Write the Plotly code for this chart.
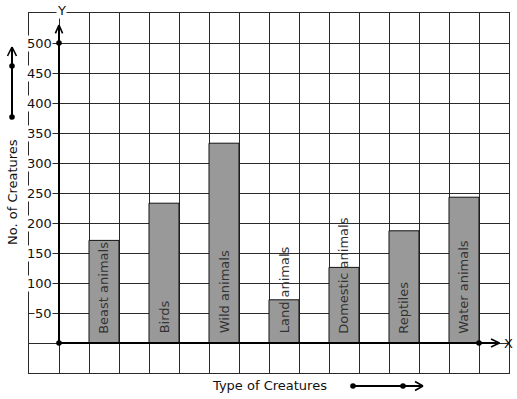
import plotly.graph_objects as go

# ---- data ----
categories = ["Beast animals", "Birds", "Wild animals", "Land animals",
              "Domestic animals", "Reptiles", "Water animals"]
counts = [171, 233, 333, 72, 126, 187, 243]
ytick_values = [50, 100, 150, 200, 250, 300, 350, 400, 450, 500]
ytick_labels = [str(v) for v in ytick_values]
x_title = "Type of Creatures"
y_title = "No. of Creatures"

FONT = "DejaVu Sans"
GRID = "#2a2a2a"

# bars sit on every other grid cell, starting at cell 1
bar_x = [1.5 + 2 * i for i in range(len(categories))]

fig = go.Figure()
fig.add_trace(go.Bar(
    x=bar_x, y=counts, width=1,
    marker=dict(color="#999999", line=dict(color="#111111", width=1)),
    hoverinfo="skip", showlegend=False,
))

shapes = []
annotations = []

def line(x0, y0, x1, y1, w=2, xref="x", yref="y"):
    shapes.append(dict(type="line", x0=x0, y0=y0, x1=x1, y1=y1, xref=xref, yref=yref,
                       line=dict(color="black", width=w)))

def dot(x, y, xref="x", yref="y", r=2.8):
    shapes.append(dict(type="circle", xref=xref, yref=yref, xsizemode="pixel", ysizemode="pixel",
                       xanchor=x, yanchor=y, x0=-r, x1=r, y0=-r, y1=r,
                       fillcolor="black", line=dict(color="black", width=0)))

# main axes with arrows
line(0, 0, 0, 530)
line(-0.12, 516, 0, 530, w=1.6)
line(0.12, 516, 0, 530, w=1.6)
line(0, 0, 14.68, 0)
line(14.4, 6.8, 14.68, 0, w=1.6)
line(14.4, -6.8, 14.68, 0, w=1.6)
dot(0, 0)
dot(0, 500)
dot(14, 0)

# left decorative arrow
px = lambda p: (p - 29) / 480.0
py = lambda p: (373 - p) / 360.0
line(px(12), py(117), px(12), py(47), xref="paper", yref="paper")
line(px(7.5), py(56), px(12), py(47), w=1.6, xref="paper", yref="paper")
line(px(16.5), py(56), px(12), py(47), w=1.6, xref="paper", yref="paper")
dot(px(12), py(117), xref="paper", yref="paper")
dot(px(12), py(66), xref="paper", yref="paper")

# bottom decorative arrow
line(px(353), py(386), px(423), py(386), xref="paper", yref="paper")
line(px(415), py(381.5), px(423), py(386), w=1.6, xref="paper", yref="paper")
line(px(415), py(390.5), px(423), py(386), w=1.6, xref="paper", yref="paper")
dot(px(353), py(386), xref="paper", yref="paper")
dot(px(403), py(386), xref="paper", yref="paper")

# y tick labels (inside the grid, white background)
for v, t in zip(ytick_values, ytick_labels):
    annotations.append(dict(x=-0.2, y=v, xref="x", yref="y", text=t, showarrow=False,
                            xanchor="right", yanchor="middle", bgcolor="white",
                            borderpad=0, font=dict(family=FONT, size=13, color="#111")))

# bar labels
for xc, name in zip(bar_x, categories):
    annotations.append(dict(x=xc, y=12, xref="x", yref="y", text=name, showarrow=False,
                            textangle=-90, xanchor="center", yanchor="bottom",
                            font=dict(family=FONT, size=13, color="#333")))

# axis letters
annotations.append(dict(x=px(61), y=py(10), xref="paper", yref="paper", text="Y", showarrow=False,
                        xanchor="center", yanchor="middle", bgcolor="white", borderpad=0,
                        font=dict(family=FONT, size=13, color="#111")))
annotations.append(dict(x=px(508), y=0, xref="paper", yref="y", text="X", showarrow=False,
                        xanchor="center", yanchor="middle",
                        font=dict(family=FONT, size=13, color="#111")))

# axis titles
annotations.append(dict(x=px(12), y=py(192), xref="paper", yref="paper", text=y_title,
                        showarrow=False, textangle=-90, xanchor="center", yanchor="middle",
                        font=dict(family=FONT, size=13, color="#111")))
annotations.append(dict(x=px(269), y=py(385), xref="paper", yref="paper", text=x_title,
                        showarrow=False, xanchor="center", yanchor="middle",
                        font=dict(family=FONT, size=13, color="#111")))

fig.update_layout(
    width=517, height=399, autosize=False,
    margin=dict(l=29, r=8, t=13, b=26, pad=0),
    paper_bgcolor="white", plot_bgcolor="white",
    xaxis=dict(range=[-1, 15], tick0=0, dtick=1, showgrid=True, gridcolor=GRID, gridwidth=1,
               showticklabels=False, ticks="", zeroline=False,
               showline=True, mirror=True, linecolor=GRID, linewidth=1, fixedrange=True),
    yaxis=dict(range=[-50, 550], tick0=0, dtick=50, showgrid=True, gridcolor=GRID, gridwidth=1,
               showticklabels=False, ticks="", zeroline=False,
               showline=True, mirror=True, linecolor=GRID, linewidth=1, fixedrange=True),
    shapes=shapes, annotations=annotations,
    font=dict(family=FONT),
    showlegend=False,
)

fig.write_html("out.html", config={"displayModeBar": False},
               post_script="document.body.style.margin='0';document.body.style.padding='0';"
                           "document.body.style.overflow='hidden';")
